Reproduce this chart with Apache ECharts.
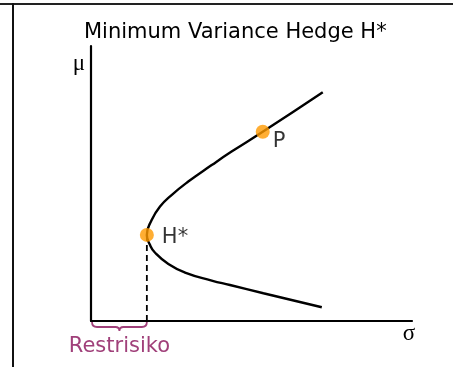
<!DOCTYPE html>
<html>
<head>
<meta charset="utf-8">
<script src="https://cdn.jsdelivr.net/npm/echarts@6/dist/echarts.min.js"></script>
<style>
  html, body { margin: 0; padding: 0; background: #fff; }
  #chart { width: 453px; height: 367px; }
</style>
</head>
<body>
<div id="chart"></div>
<script>
// Efficient frontier (sigma, mu) traced from top branch to bottom branch
const frontierSigma = [7.22, 5.35, 4.38, 3.76, 3.03, 2.51, 2.15, 1.89, 1.74, 1.84, 1.99, 2.41, 2.93, 3.76, 4.33, 5.37, 7.19];
const frontierMu    = [8.32, 6.88, 6.16, 5.67, 5.07, 4.58, 4.16, 3.67, 3.13, 2.76, 2.49, 2.07, 1.76, 1.47, 1.31, 1.01, 0.50];

// Marked portfolios
const pointNames = ['H*', 'P'];
const pointSigma = [1.74, 5.35];
const pointMu    = [3.13, 6.88];

// Residual risk: sigma range from 0 up to the minimum-variance hedge
const residualLabel = 'Restrisiko';
const residualRange = [0, pointSigma[0]];

const axisNames = { x: 'σ', y: 'μ' };
const titleText = 'Minimum Variance Hedge H*';

const purple = '#A0407A';
const orange = '#FF9A00';

const chart = echarts.init(document.getElementById('chart'), null, { renderer: 'canvas' });

const frontierData = frontierSigma.map((s, i) => [s, frontierMu[i]]);
const pointData = pointNames.map((n, i) => ({
  name: n,
  value: [pointSigma[i], pointMu[i]],
  label: {
    show: true,
    formatter: n,
    position: 'right',
    distance: 8,
    offset: i === 0 ? [0, 3] : [-5, 10]
  }
}));
const dropData = [[pointSigma[0], pointMu[0]], [pointSigma[0], 0]];

chart.setOption({
  animation: false,
  backgroundColor: '#fff',
  title: {
    text: titleText,
    left: 79,
    top: 17,
    textStyle: { fontFamily: 'DejaVu Sans', fontSize: 21, fontWeight: 'normal', color: '#000' }
  },
  grid: { left: 91, top: 46, width: 321, height: 275 },
  xAxis: {
    type: 'value', min: 0, max: 10,
    name: axisNames.x,
    nameLocation: 'end',
    nameGap: -3,
    nameTextStyle: { fontFamily: 'Liberation Serif', fontSize: 23, color: '#000', align: 'center', verticalAlign: 'top', padding: [1, 0, 0, 0] },
    axisLine: { show: true, lineStyle: { color: '#000', width: 2.2 } },
    axisTick: { show: false }, axisLabel: { show: false }, splitLine: { show: false }
  },
  yAxis: {
    type: 'value', min: 0, max: 10,
    name: axisNames.y,
    nameLocation: 'end',
    nameGap: -6,
    nameTextStyle: { fontFamily: 'Liberation Serif', fontSize: 23, color: '#000', align: 'right', verticalAlign: 'top', padding: [0, 6, 0, 0] },
    axisLine: { show: true, lineStyle: { color: '#000', width: 2.2 } },
    axisTick: { show: false }, axisLabel: { show: false }, splitLine: { show: false }
  },
  graphic: [
    { type: 'line', shape: { x1: 0, y1: 4, x2: 453, y2: 4 }, style: { stroke: '#222', lineWidth: 2 } },
    { type: 'line', shape: { x1: 13, y1: 3, x2: 13, y2: 367 }, style: { stroke: '#111', lineWidth: 2 } }
  ],
  series: [
    {
      type: 'line',
      data: frontierData,
      smooth: 0.5,
      showSymbol: false,
      lineStyle: { color: '#000', width: 2.4 },
      z: 2
    },
    {
      type: 'line',
      data: dropData,
      showSymbol: false,
      lineStyle: { color: '#000', width: 1.8, type: [6, 4] },
      z: 1
    },
    {
      type: 'custom',
      data: [residualRange],
      renderItem: function (params, api) {
        const a = api.coord([api.value(0), 0]);
        const b = api.coord([api.value(1), 0]);
        const x0 = a[0] + 1, x1 = b[0], y = a[1];
        const xm = (x0 + x1) / 2;
        const yb = y + 6;
        const path = `M${x0},${y + 1} Q${x0},${yb} ${x0 + 5},${yb} L${xm - 4},${yb} Q${xm},${yb} ${xm},${y + 10} Q${xm},${yb} ${xm + 4},${yb} L${x1 - 5},${yb} Q${x1},${yb} ${x1},${y + 1}`;
        return {
          type: 'group',
          children: [
            { type: 'path', shape: { pathData: path }, style: { fill: 'none', stroke: purple, lineWidth: 1.8 } },
            { type: 'text', style: { text: residualLabel, x: xm, y: y + 26, align: 'center', verticalAlign: 'middle', fill: purple, font: '21px "DejaVu Sans"' } }
          ]
        };
      },
      z: 3
    },
    {
      type: 'scatter',
      data: pointData,
      symbol: 'circle',
      symbolSize: 14,
      itemStyle: { color: orange },
      label: { fontFamily: 'DejaVu Sans', fontSize: 21, color: '#000' },
      z: 5
    }
  ]
});
</script>
</body>
</html>
